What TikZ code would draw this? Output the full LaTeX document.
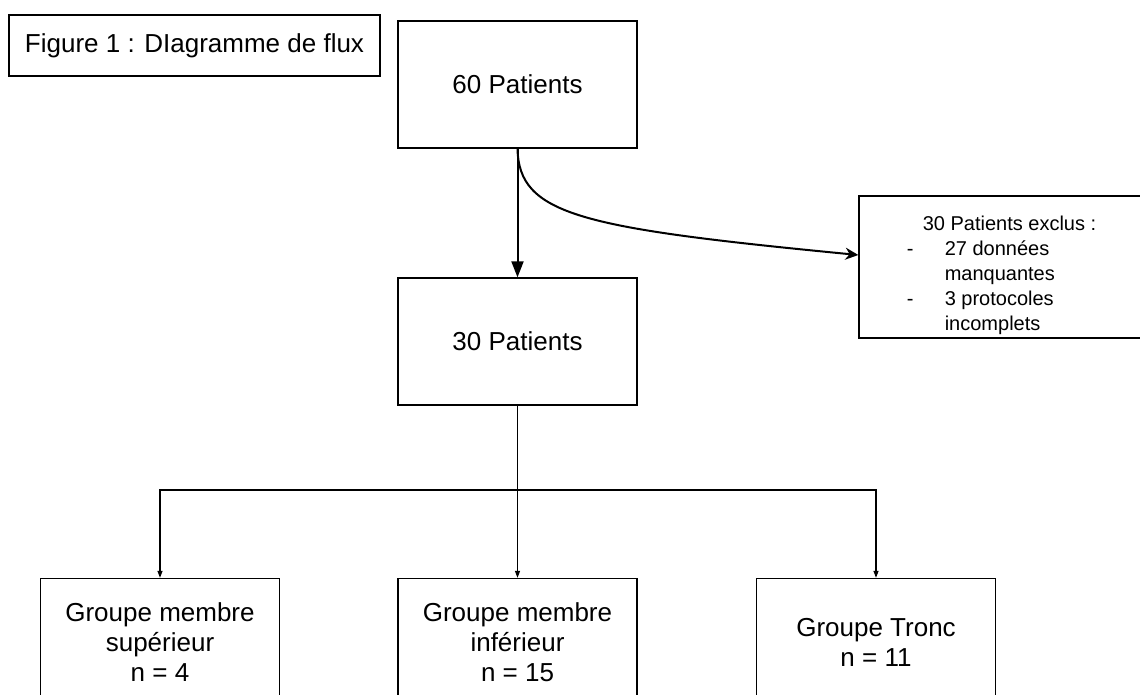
\documentclass[tikz,border=0pt]{standalone}
\usepackage{fontspec}
\setmainfont{Liberation Sans}
\usetikzlibrary{arrows.meta,positioning}

\begin{document}
\begin{tikzpicture}[x=1pt,y=-1pt,
    box/.style={draw,line width=1.3pt,minimum width=239pt,minimum height=127pt,align=center,font=\fontsize{26}{30}\selectfont},
    fleche/.style={line width=2pt,-{Triangle[length=16pt,width=12pt]}},
    courbe/.style={line width=2pt,-{Stealth[length=13pt,width=12pt]}},
    lien/.style={line width=1.2pt,-{Triangle[length=7pt,width=5pt]}}]
  \useasboundingbox (0,0) rectangle (1140,695);
  \node[box,minimum width=371pt,minimum height=61pt] (titre) at (194.5,45.5) {Figure 1 : DIagramme de flux};
  \node[box] (p60) at (517.5,84.5) {60 Patients};
  \node[box] (p30) at (517.5,341.5) {30 Patients};
  \node[box,minimum width=285pt,minimum height=142pt,font=\fontsize{20}{25}\selectfont] (exclus) at (1001.5,267)
    {\raisebox{37pt}[0pt][0pt]{\begin{tabular}[t]{@{}p{38pt}@{}l@{}}
      \multicolumn{2}{@{\hspace{16pt}}l@{}}{30 Patients exclus :}\\
      - & 27 données\\
        & manquantes\\
      - & 3 protocoles\\
        & incomplets
    \end{tabular}}};
  \node[box] (gsup) at (160,642) {Groupe membre\\supérieur\\n = 4};
  \node[box] (ginf) at (517.5,642) {Groupe membre\\inférieur\\n = 15};
  \node[box] (gtronc) at (876,642) {Groupe Tronc\\n = 11};
  % exclusion
  \draw[fleche] (p60.south) -- (p30.north);
  \draw[courbe] (p60.south) .. controls (519,215) and (580,228) .. ([yshift=12pt]exclus.west);
  % repartition en groupes
  \coordinate (branche) at (517.5,490);
  \draw[lien] (p30.south) -- (ginf.north);
  \draw[lien] (branche) -| (gsup.north);
  \draw[lien] (branche) -| (gtronc.north);
\end{tikzpicture}
\end{document}
